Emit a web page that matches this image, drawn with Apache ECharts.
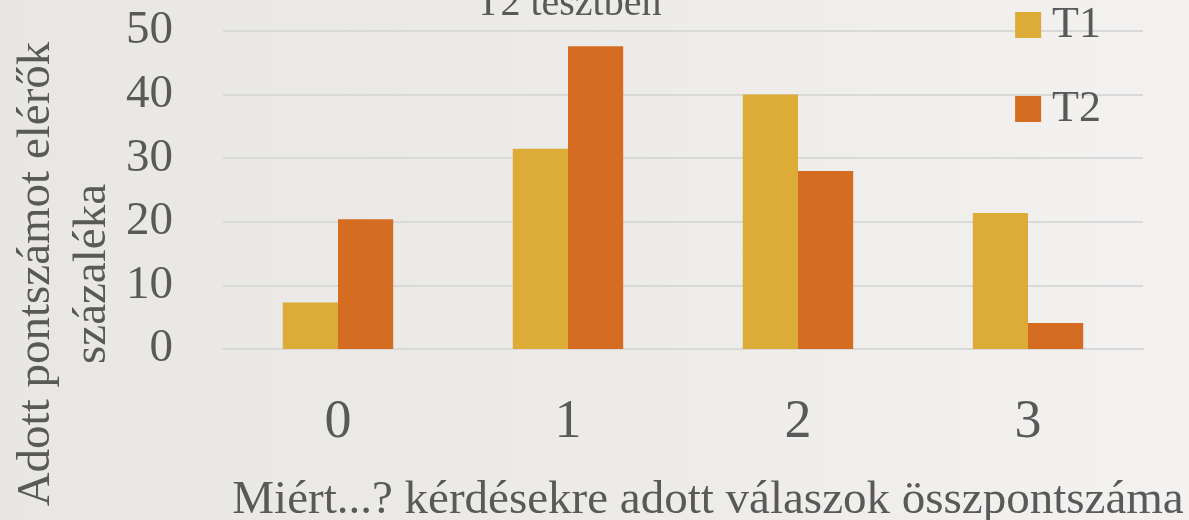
<!DOCTYPE html>
<html>
<head>
<meta charset="utf-8">
<script src="https://cdn.jsdelivr.net/npm/echarts@6/dist/echarts.min.js"></script>
<style>
  html, body { margin: 0; padding: 0; }
  #chart { width: 1189px; height: 520px; background: linear-gradient(90deg, #e8e7e3 0%, #ecebe8 50%, #f3f2f0 100%); }
</style>
</head>
<body>
<div id="chart"></div>
<script>
  // kategóriák (x tengely) és sorozatok
  var categories = ['0', '1', '2', '3'];
  var seriesNames = ['T1', 'T2'];
  var t1Values = [7.3, 31.5, 40.0, 21.4];
  var t2Values = [20.4, 47.6, 28.0, 4.1];
  var yTicks = [0, 10, 20, 30, 40, 50];

  var font = '"Liberation Serif", "DejaVu Serif", serif';
  var textColor = '#595959';

  var myChart = echarts.init(document.getElementById('chart'), null, { renderer: 'canvas' });
  myChart.setOption({
    backgroundColor: 'transparent',
    animation: false,
    textStyle: { fontFamily: font, color: textColor },
    grid: {
      top: 31,
      left: 223,
      right: 46,
      bottom: 171,
      containLabel: false,
      outerBoundsMode: 'none'
    },
    legend: {
      orient: 'vertical',
      right: 83,
      top: -2,
      itemWidth: 26,
      itemHeight: 26,
      itemGap: 40,
      icon: 'rect',
      data: seriesNames,
      textStyle: { fontFamily: font, fontSize: 44, color: textColor, padding: [0, 0, 0, 6] }
    },
    graphic: [
      {
        // levágott cím a tetején
        type: 'text',
        left: 476,
        top: -16,
        style: { text: 'T2 tesztben', font: '40px ' + font, fill: textColor }
      },
      {
        // y tengely címe, két sorban
        type: 'text',
        x: 65,
        y: 274,
        rotation: Math.PI / 2,
        style: {
          text: 'Adott pontszámot elérők\nszázaléka',
          font: '47px ' + font,
          fill: textColor,
          align: 'center',
          verticalAlign: 'middle',
          lineHeight: 56
        }
      }
    ],
    xAxis: {
      type: 'category',
      data: categories,
      name: 'Miért...? kérdésekre adott válaszok összpontszáma',
      nameLocation: 'middle',
      nameGap: 128,
      nameTextStyle: { fontFamily: font, fontSize: 47, color: textColor, padding: [0, 0, 0, 50] },
      axisTick: { show: false },
      axisLine: { show: true, lineStyle: { color: '#d9d9d9', width: 2 } },
      axisLabel: { fontFamily: font, fontSize: 54, color: textColor, margin: 47 }
    },
    yAxis: {
      type: 'value',
      min: yTicks[0],
      max: yTicks[yTicks.length - 1],
      interval: 10,
      axisLine: { show: false },
      axisTick: { show: false },
      splitLine: { lineStyle: { color: '#d9d9d9', width: 2 } },
      axisLabel: { fontFamily: font, fontSize: 47, color: textColor, margin: 50 }
    },
    series: [
      {
        name: seriesNames[0],
        type: 'bar',
        data: t1Values,
        barGap: 0,
        barCategoryGap: '52%',
        itemStyle: { color: '#dcac36' }
      },
      {
        name: seriesNames[1],
        type: 'bar',
        data: t2Values,
        barGap: 0,
        barCategoryGap: '52%',
        itemStyle: { color: '#d46c22' }
      }
    ]
  });
</script>
</body>
</html>
